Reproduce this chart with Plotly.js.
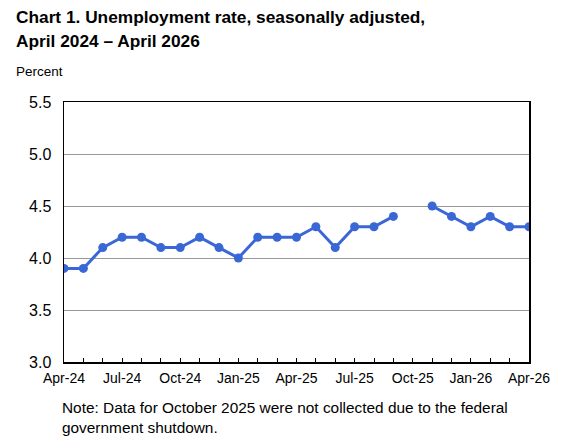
<!DOCTYPE html>
<html><head><meta charset="utf-8">
<script src="https://cdn.plot.ly/plotly-3.0.1.min.js"></script>
<style>html,body{margin:0;padding:0;background:#fff}#chart{width:565px;height:448px}</style>
</head><body><div id="chart"></div>
<script>
const months = ["Apr-24","May-24","Jun-24","Jul-24","Aug-24","Sep-24","Oct-24","Nov-24","Dec-24",
  "Jan-25","Feb-25","Mar-25","Apr-25","May-25","Jun-25","Jul-25","Aug-25","Sep-25","Oct-25",
  "Nov-25","Dec-25","Jan-26","Feb-26","Mar-26","Apr-26"];
const rate = [3.9,3.9,4.1,4.2,4.2,4.1,4.1,4.2,4.1,4.0,4.2,4.2,4.2,4.3,4.1,4.3,4.3,4.4,null,4.5,4.4,4.3,4.4,4.3,4.3];
const labelMonths = ["Apr-24","Jul-24","Oct-24","Jan-25","Apr-25","Jul-25","Oct-25","Jan-26","Apr-26"];
const yTicks = [3.0,3.5,4.0,4.5,5.0,5.5];
const titleLines = ["Chart 1. Unemployment rate, seasonally adjusted,", "April 2024 – April 2026"];

const FONT = "Arial, 'Liberation Sans', Helvetica, sans-serif";
const PW = 465, PH = 260;
const trace = {
  x: months, y: rate, type: "scatter", mode: "lines+markers",
  line: {color: "#3a67d6", width: 3}, marker: {color: "#3a67d6", size: 9},
  connectgaps: false, hoverinfo: "x+y"
};
const titleAnns = titleLines.map((t, i) => ({
  text: "<b>" + t + "</b>", xref: "paper", yref: "paper",
  x: -50/PW, y: (362 - 17 - 24*i)/PH, xanchor: "left", yanchor: "middle",
  align: "left", showarrow: false, font: {family: FONT, size: 17.3, color: "#000"}
}));
const layout = {
  width: 565, height: 448,
  margin: {l: 64, r: 36, t: 102, b: 86},
  paper_bgcolor: "#fff", plot_bgcolor: "#fff",
  showlegend: false,
  font: {family: FONT, color: "#000"},
  xaxis: {
    type: "category", range: [0, months.length - 1],
    tickmode: "array", tickvals: months,
    ticktext: months.map(m => labelMonths.includes(m) ? m : ""),
    ticks: "inside", ticklen: 4, tickcolor: "#000", tickwidth: 1,
    showline: true, linecolor: "#000", linewidth: 1.5, mirror: true,
    showgrid: false, zeroline: false, ticklabelstandoff: 3,
    tickfont: {family: FONT, size: 14, color: "#000"}, tickangle: 0
  },
  yaxis: {
    range: [3.0, 5.5], tickmode: "array", tickvals: yTicks,
    ticktext: yTicks.map(v => v.toFixed(1)),
    ticks: "", showline: true, linecolor: "#000", linewidth: 1.5, mirror: true,
    showgrid: true, gridcolor: "#999", gridwidth: 1, zeroline: false,
    tickfont: {family: FONT, size: 16, color: "#000"}, ticklabelstandoff: 8
  },
  annotations: titleAnns.concat([
    {text: "Percent", xref: "paper", yref: "paper", x: -50/PW, y: 1 + 31/PH,
     xanchor: "left", yanchor: "middle", showarrow: false,
     font: {family: FONT, size: 13.5, color: "#000"}},
    {text: "Note: Data for October 2025 were not collected due to the federal<br>government shutdown.",
     xref: "paper", yref: "paper", x: -4/PW, y: -35/PH, xanchor: "left", yanchor: "top",
     align: "left", showarrow: false, font: {family: FONT, size: 15.4, color: "#000"}}
  ])
};
Plotly.newPlot("chart", [trace], layout, {displayModeBar: false, staticPlot: true});
</script></body></html>
